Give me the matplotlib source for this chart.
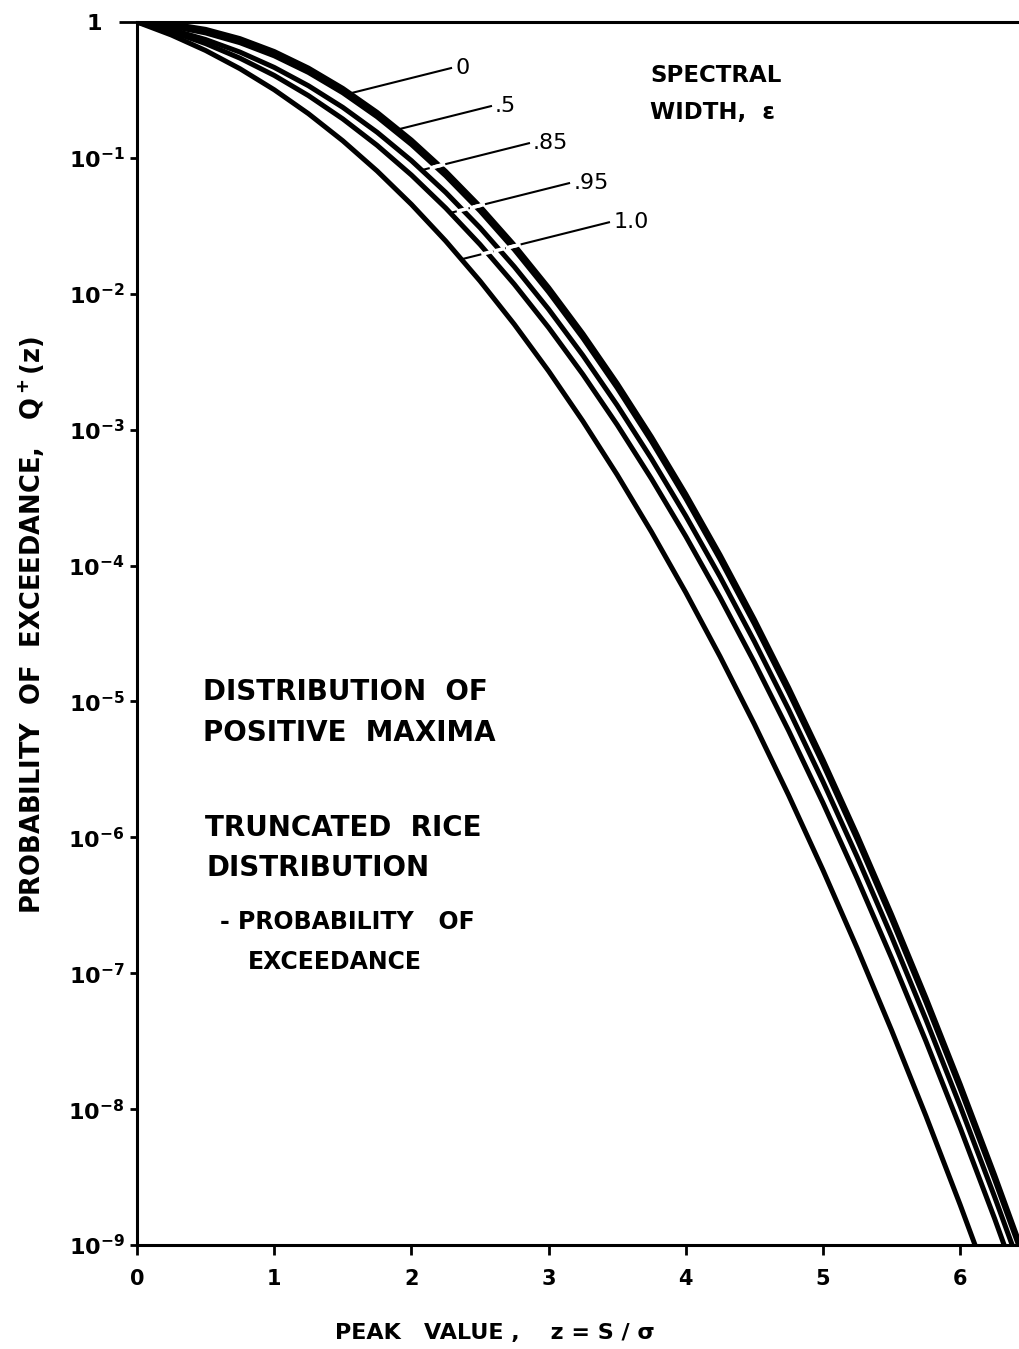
import numpy as np
import matplotlib
matplotlib.use("Agg")
import matplotlib.pyplot as plt

# peak value z = S/sigma
z = [0, 0.25, 0.5, 0.75, 1, 1.25, 1.5, 1.75, 2, 2.25, 2.5, 2.75, 3, 3.25,
     3.5, 3.75, 4, 4.25, 4.5, 4.75, 5, 5.25, 5.5, 5.75, 6, 6.25, 6.5]

# probability of exceedance Q+(z) for each spectral width
q_e0 = [1, 0.9692, 0.8825, 0.7548, 0.6065, 0.4578, 0.3247, 0.2163, 0.1353,
        0.07956, 0.04394, 0.02280, 0.01111, 5.086e-3, 2.187e-3, 8.838e-4,
        3.355e-4, 1.196e-4, 4.007e-5, 1.261e-5, 3.727e-6, 1.035e-6,
        2.700e-7, 6.616e-8, 1.523e-8, 3.294e-9, 6.69e-10]
q_e05 = [1, 0.9312, 0.8309, 0.7043, 0.5640, 0.4252, 0.3014, 0.2007, 0.1256,
         0.07385, 0.04078, 0.02116, 0.01031, 4.721e-3, 2.030e-3, 8.203e-4,
         3.114e-4, 1.110e-4, 3.719e-5, 1.170e-5, 3.459e-6, 9.606e-7,
         2.506e-7, 6.141e-8, 1.414e-8, 3.057e-9, 6.21e-10]
q_e085 = [1, 0.8790, 0.7431, 0.6010, 0.4633, 0.3393, 0.2354, 0.1544, 0.09552,
          0.05574, 0.03063, 0.01583, 7.698e-3, 3.519e-3, 1.5115e-3, 6.104e-4,
          2.316e-4, 8.257e-5, 2.761e-5, 8.701e-6, 2.569e-6, 7.141e-7,
          1.863e-7, 4.564e-8, 1.051e-8, 2.273e-9, 4.62e-10]
q_e095 = [1, 0.8496, 0.6935, 0.5421, 0.4045, 0.2871, 0.1936, 0.1237, 0.07482,
          0.04277, 0.02308, 0.01175, 5.640e-3, 2.550e-3, 1.0855e-3, 4.349e-4,
          1.640e-4, 5.816e-5, 1.936e-5, 6.081e-6, 1.793e-6, 4.965e-7,
          1.293e-7, 3.164e-8, 7.28e-9, 1.573e-9, 3.14e-10]
q_e1 = [1, 0.8026, 0.6171, 0.4533, 0.3173, 0.2113, 0.1336, 0.08012, 0.04550,
        0.02445, 0.01242, 5.960e-3, 2.700e-3, 1.154e-3, 4.653e-4, 1.768e-4,
        6.334e-5, 2.138e-5, 6.795e-6, 2.034e-6, 5.733e-7, 1.521e-7,
        3.798e-8, 8.924e-9, 1.973e-9, 4.104e-10, 8.0e-11]

curves = [q_e0, q_e05, q_e085, q_e095, q_e1]
eps_labels = ["0", ".5", ".85", ".95", "1.0"]

xticks = [0, 1, 2, 3, 4, 5, 6]
ydecades = [-9, -8, -7, -6, -5, -4, -3, -2, -1, 0]

W, H = 1020, 1349
plt.rcParams["font.family"] = ["DejaVu Sans"]
plt.rcParams["font.weight"] = "bold"
plt.rcParams["mathtext.default"] = "bf"

fig = plt.figure(figsize=(W / 100, H / 100), dpi=100)
ax = fig.add_axes([137 / W, 1 - 1245 / H, 883 / W, (1245 - 22) / H])


def fx(px):
    return px / W


def fy(py):
    return 1 - py / H


for q in curves:
    ax.plot(z, q, color="black", lw=3.6, solid_capstyle="butt",
            solid_joinstyle="round", zorder=2)

ax.set_yscale("log")
ax.set_xlim(0, 883 / 137.2)
ax.set_ylim(1e-9, 1)

# leader lines from the epsilon labels to their curves
slope = 0.253  # decades per unit z
leader_ends = [(2.289, -0.339), (2.580, -0.619), (2.857, -0.892),
               (3.149, -1.186), (3.440, -1.474)]


def crossing(q, ze, le):
    zz = np.linspace(0, ze, 4000)
    diff = np.interp(zz, z, np.log10(q)) - (le - slope * (ze - zz))
    idx = np.where(diff >= 0)[0]
    return zz[idx[-1]]


for i, (ze, le) in enumerate(leader_ends):
    zt = crossing(curves[i], ze, le)
    ax.plot([zt, ze], [10 ** (le - slope * (ze - zt)), 10 ** le],
            color="black", lw=1.5, zorder=1)
    for j in range(i):
        zc = crossing(curves[j], ze, le)
        if abs(zc - zt) > 0.06:
            za, zb = zc - 0.03, zc + 0.03
            ax.plot([za, zb], [10 ** (le - slope * (ze - za)),
                               10 ** (le - slope * (ze - zb))],
                    color="white", lw=2.6, zorder=3)
    ax.text(ze + 0.03, 10 ** le, eps_labels[i], fontsize=16,
            fontweight="normal", ha="left", va="center")

ax.set_xticks(xticks)
ax.set_xticklabels([str(t) for t in xticks], fontsize=15)
ax.set_yticks([10.0 ** d for d in ydecades])
ax.set_yticklabels(["$10^{%d}$" % d if d != 0 else "1" for d in ydecades],
                   fontsize=16)
ax.minorticks_off()
ax.tick_params(axis="x", direction="out", length=7, width=2, pad=10)
ax.tick_params(axis="y", direction="out", length=5, width=2, pad=4)
top_tick = ax.yaxis.get_major_ticks()[-1]
top_tick.set_pad(20)
top_tick.tick1line.set_markersize(13)

ax.spines["right"].set_visible(False)
for s in ["left", "bottom", "top"]:
    ax.spines[s].set_linewidth(2.2)

fig.text(fx(495), fy(1333), "PEAK   VALUE ,    z = S / σ", fontsize=16,
         ha="center", va="center")
fig.text(fx(32), fy(625), "PROBABILITY  OF  EXCEEDANCE,   Q$^+$(z)",
         fontsize=18.5, rotation=90, ha="center", va="center")

fig.text(fx(650), fy(75), "SPECTRAL", fontsize=16.5, ha="left", va="center")
fig.text(fx(650), fy(112), "WIDTH,  ε", fontsize=16.5, ha="left", va="center")

fig.text(fx(203), fy(692), "DISTRIBUTION  OF", fontsize=20, ha="left", va="center")
fig.text(fx(203), fy(733), "POSITIVE  MAXIMA", fontsize=20, ha="left", va="center")
fig.text(fx(205), fy(828), "TRUNCATED  RICE", fontsize=20, ha="left", va="center")
fig.text(fx(207), fy(868), "DISTRIBUTION", fontsize=20, ha="left", va="center")
fig.text(fx(220), fy(922), "- PROBABILITY   OF", fontsize=17, ha="left", va="center")
fig.text(fx(248), fy(962), "EXCEEDANCE", fontsize=17, ha="left", va="center")

fig.savefig("out.png", dpi=100)
